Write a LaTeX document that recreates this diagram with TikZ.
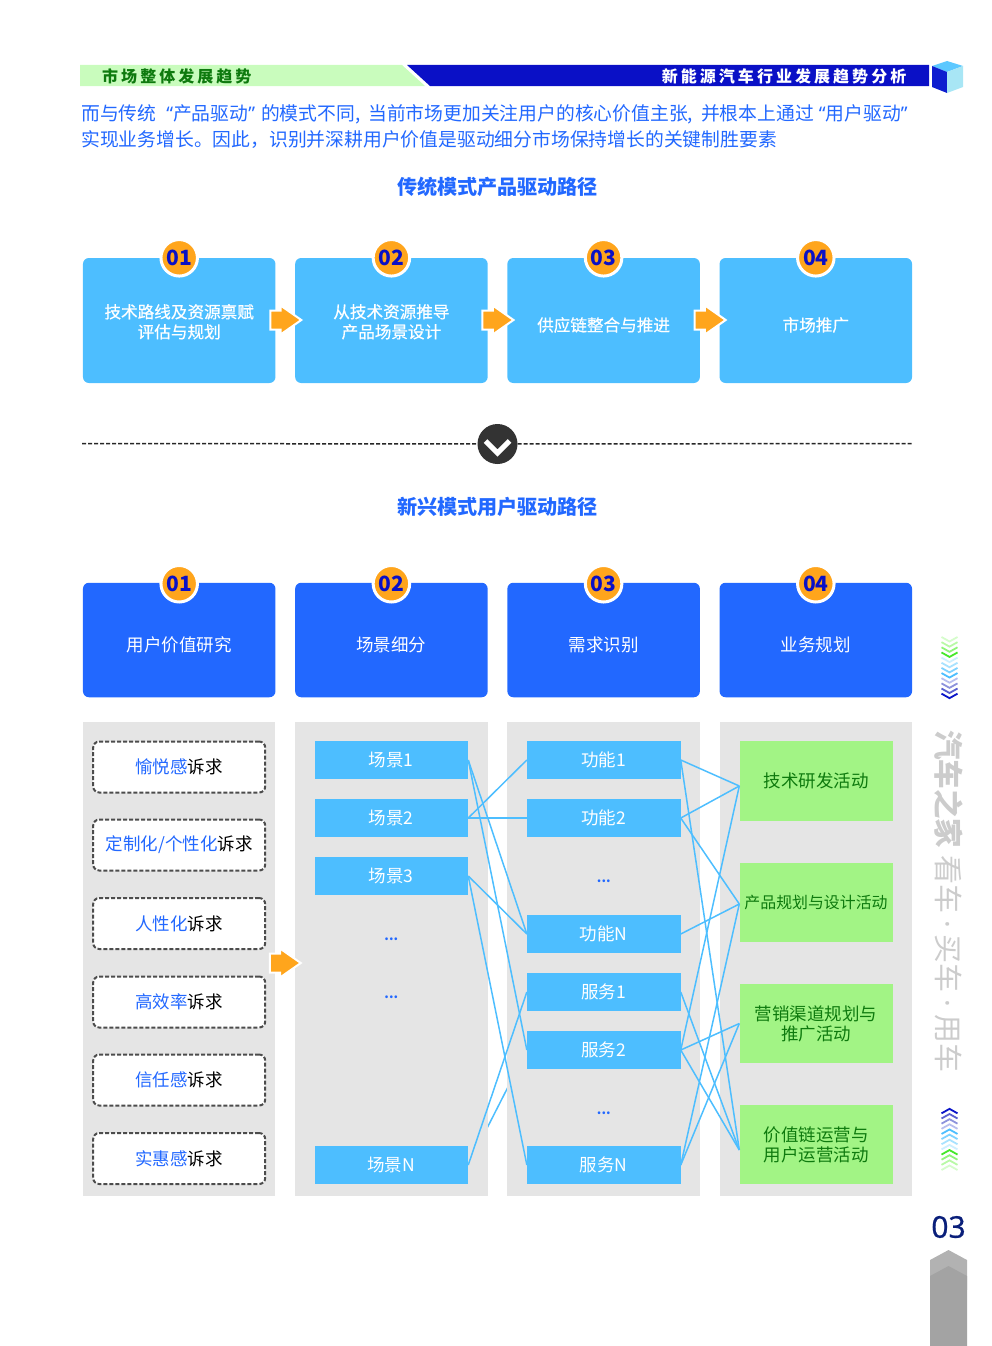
\documentclass[tikz,border=0pt]{standalone}
\usepackage{fontspec}
\setmainfont{Noto Sans CJK SC}
\setsansfont{Noto Sans}
\newfontfamily\headfont[LetterSpace=19]{Noto Sans CJK SC}
\newfontfamily\medfont[FakeBold=0.5]{Noto Sans CJK SC}
\newfontfamily\numfont[FakeBold=0.6]{Noto Sans}
\usetikzlibrary{shapes, arrows}
\definecolor{skyblue}{HTML}{4DBEFF}
\definecolor{royal}{HTML}{2268FF}
\definecolor{navy}{HTML}{0A10C6}
\definecolor{amber}{HTML}{FFA51C}
\definecolor{panelgray}{HTML}{E5E5E5}
\definecolor{leaf}{HTML}{A2F485}
\definecolor{darkleaf}{HTML}{0E7A0E}
\definecolor{paleleaf}{HTML}{C9FCBD}
\definecolor{cubetop}{HTML}{5CC8FF}
\definecolor{cubeside}{HTML}{A8E6F5}
\definecolor{pageblue}{HTML}{0A1F7A}
\newcommand{\fz}[2]{\fontsize{#1}{#2}\selectfont}
\newcommand{\qt}[1]{{\sffamily #1}}
\tikzstyle{topcell} = [rectangle, rounded corners=6pt, fill=skyblue, text=white, minimum width=192.5pt, minimum height=125pt, inner sep=0pt, align=center, font=\medfont\fz{16.6}{20}]
\tikzstyle{oneline} = [text height=21.6pt, text depth=0pt]
\tikzstyle{maincell} = [rectangle, rounded corners=6pt, fill=royal, text=white, minimum width=192.5pt, minimum height=114.5pt, inner sep=0pt, text height=23.3pt, text depth=0pt, font=\fz{17.5}{20}]
\tikzstyle{badge} = [circle, fill=amber, draw=white, line width=3pt, minimum size=36.5pt, inner sep=0pt, text=navy, font=\bfseries\fz{21}{21}]
\tikzstyle{nextarrow} = [single arrow, fill=amber, draw=white, line width=2pt, minimum width=27pt, minimum height=31pt, single arrow head extend=5pt, single arrow head indent=0pt, single arrow tip angle=70, inner sep=0pt, text height=17pt, text depth=0pt]
\tikzstyle{panel} = [rectangle, fill=panelgray, minimum width=192.5pt, minimum height=474pt, inner sep=0pt]
\tikzstyle{wish} = [rectangle, rounded corners=6pt, draw=black!70, fill=white, dash pattern=on 4pt off 2pt, line width=2pt, minimum width=172pt, minimum height=51pt, inner sep=0pt, font=\fz{17.5}{20}]
\tikzstyle{item} = [rectangle, fill=skyblue, text=white, minimum width=153.5pt, minimum height=38pt, inner sep=0pt, font=\fz{17.5}{20}]
\tikzstyle{activity} = [rectangle, fill=leaf, text=darkleaf, minimum width=153pt, minimum height=79.5pt, inner sep=0pt, align=center, font=\fz{17.5}{20}]
\tikzstyle{more} = [text=royal, inner sep=0pt, font=\bfseries\fz{13}{13}]
\tikzstyle{link} = [draw=skyblue, line width=1.5pt]
\tikzstyle{title} = [text=royal, font=\bfseries\fz{20.1}{20}]
\tikzstyle{divider} = [line width=1.5pt, dash pattern=on 4pt off 2pt, black!85]
\pgfdeclarelayer{background}
\pgfsetlayers{background,main}
\begin{document}
\begin{tikzpicture}[x=1pt, y=-1pt, node distance = 212.2pt]
    \useasboundingbox (0,0) rectangle (992,1346);

    % header bands
    \fill[paleleaf] (80,65) -- (402,65) -- (425,86) -- (80,86) -- cycle;
    \fill[navy] (407,65) -- (430,86) -- (929,86) -- (929,65) -- cycle;
    \node[anchor=west, inner sep=0pt, text=darkleaf, font=\headfont\bfseries\fz{16}{16}] (headl) at (102,76) {市场整体发展趋势};
    \node[anchor=east, inner sep=0pt, text=white, font=\headfont\bfseries\fz{16}{16}] (headr) at (906.5,76) {新能源汽车行业发展趋势分析};
    \fill[cubetop] (947,61) -- (963,66) -- (947,72) -- (932,66) -- cycle;
    \fill[navy!85!royal] (932,66) -- (947,72) -- (947,93) -- (932,87) -- cycle;
    \fill[cubeside] (963,66) -- (947,72) -- (947,93) -- (963,87) -- cycle;

    \node[anchor=west, inner sep=0pt, text=royal, font=\fz{18.8}{20}] (introa) at (81,114) {而与传统\hspace{10pt}\qt{“}产品驱动\qt{”}\hspace{6pt}的模式不同,\hspace{8pt}当前市场更加关注用户的核心价值主张,\hspace{8pt}并根本上通过\hspace{5pt}\qt{“}用户驱动\qt{”}};
    \node[anchor=west, inner sep=0pt, text=royal, font=\fz{18.8}{20}] (introb) at (81,140) {实现业务增长。因此，识别并深耕用户价值是驱动细分市场保持增长的关键制胜要素};

    % traditional path
    \node[title] (oldtitle) at (497.5,187) {传统模式产品驱动路径};
    \node[topcell] (t1) at (179.2,320.5) {\rule{0pt}{16.6pt}技术路线及资源禀赋\\评估与规划};
    \node[topcell, right of=t1] (t2) {\rule{0pt}{16.6pt}从技术资源推导\\产品场景设计};
    \node[topcell, oneline, right of=t2] (t3) {供应链整合与推进};
    \node[topcell, oneline, right of=t3] (t4) {市场推广};
    \foreach \n/\t in {1/01, 2/02, 3/03, 4/04} {
        \node[badge] (tb\n) at (t\n.north) {\t};
    }
    \node[nextarrow] (ta1) at (279,320) {};
    \node[nextarrow, right of=ta1] (ta2) {};
    \node[nextarrow, right of=ta2] (ta3) {};

    % divider
    \coordinate (dashl) at (82,443.5);
    \coordinate (dashr) at (912,443.5);
    \node[circle, fill=black!80, minimum size=40pt, inner sep=0pt] (turn) at (497.5,444) {};
    \draw[divider] (dashl) -- (turn);
    \draw[divider] (turn) -- (dashr);
    \draw[white, line width=5pt] ([shift={(-12pt,3pt)}]turn.center) -- ([shift={(0pt,-9pt)}]turn.center) -- ([shift={(12pt,3pt)}]turn.center);

    % user driven path
    \node[title] (newtitle) at (497.5,507) {新兴模式用户驱动路径};
    \node[maincell] (m1) at (179.2,640) {用户价值研究};
    \node[maincell, right of=m1] (m2) {场景细分};
    \node[maincell, right of=m2] (m3) {需求识别};
    \node[maincell, right of=m3] (m4) {业务规划};
    \foreach \n/\t in {1/01, 2/02, 3/03, 4/04} {
        \node[badge] (mb\n) at ([yshift=-1.2pt]m\n.north) {\t};
    }

    \node[panel] (p1) at (179.2,959) {};
    \node[panel, right of=p1] (p2) {};
    \node[panel, right of=p2] (p3) {};
    \node[panel, right of=p3] (p4) {};

    \node[wish] (w1) at (179.2,767) {{\color{royal}愉悦感}诉求};
    \node[wish] (w2) at (179.2,845) {{\color{royal}定制化/个性化}诉求};
    \node[wish] (w3) at (179.2,923.5) {{\color{royal}人性化}诉求};
    \node[wish] (w4) at (179.2,1002) {{\color{royal}高效率}诉求};
    \node[wish] (w5) at (179.2,1080) {{\color{royal}信任感}诉求};
    \node[wish] (w6) at (179.2,1158.5) {{\color{royal}实惠感}诉求};
    \node[nextarrow] (ta4) at (278.5,963) {};

    \node[item] (s1) at (391.3,760) {场景1};
    \node[item] (s2) at (391.3,818) {场景2};
    \node[item] (s3) at (391.3,876) {场景3};
    \node[more] (sd1) at (391.3,939.5) {...};
    \node[more] (sd2) at (391.3,997.5) {...};
    \node[item] (sN) at (391.3,1165) {场景N};

    \node[item] (f1) at (603.8,760) {功能1};
    \node[item] (f2) at (603.8,818) {功能2};
    \node[more] (fd) at (603.8,881) {...};
    \node[item] (fN) at (603.8,934) {功能N};
    \node[item] (v1) at (603.8,992) {服务1};
    \node[item] (v2) at (603.8,1050) {服务2};
    \node[more] (vd) at (603.8,1113) {...};
    \node[item] (vN) at (603.8,1165) {服务N};

    \node[activity] (tech) at (816,781) {技术研发活动};
    \node[activity, font=\fz{15.9}{20}] (plan) at (816,902.5) {产品规划与设计活动};
    \node[activity] (chan) at (816,1023.5) {营销渠道规划与\\推广活动};
    \node[activity] (valu) at (816,1144.5) {价值链运营与\\用户运营活动};

    \coordinate (gtech) at ([yshift=-5pt]tech.west);
    \coordinate (gplan) at ([yshift=-1.5pt]plan.west);
    \coordinate (gchan) at (chan.west);
    \coordinate (gvalu) at ([yshift=-5.5pt]valu.west);

    \foreach \a/\b in {s1/fN, s1/v2, s2/f1, s2/f2, s3/fN, s3/vN, sN/v1} {
        \path[link] (\a.east) -- (\b.west);
    }
    \begin{pgfonlayer}{background}
        \path[link] (sN.east) -- (v2.west);
    \end{pgfonlayer}
    \foreach \a/\b in {f1/gtech, f2/gtech, v2/gtech, f2/gplan, fN/gplan, vN/gplan, v2/gchan, vN/gchan, f1/gvalu, v1/gvalu, v2/gvalu} {
        \path[link] (\a.east) -- (\b);
    }

    % side marks
    \foreach \i/\c in {0/D5FCCB, 1/B8F9A6, 2/8FF47A, 3/44E72A, 4/CDEFFF, 5/A8E2FF, 6/7FD2FF, 7/4DBEFF, 8/B8BEEE, 9/8D93DC, 10/5A60CF, 11/0A14C8} {
        \definecolor{sidetone}{HTML}{\c}
        \draw[color=sidetone, line width=1.8pt] (941.5,637+5.15*\i) -- (949.5,641.5+5.15*\i) -- (957.5,637+5.15*\i);
        \draw[color=sidetone, line width=1.8pt] (941.5,1170-5.15*\i) -- (949.5,1165.5-5.15*\i) -- (957.5,1170-5.15*\i);
    }
    \node[rotate=-90, anchor=west, inner sep=0pt, text=black!20, font=\bfseries\fz{29.5}{30}] (brand) at (949,730) {汽车之家};
    \node[rotate=-90, anchor=west, inner sep=0pt, text=black!20, font=\fz{29}{30}] (slogan) at (949,855) {看车\hspace{7pt}\qt{·}\hspace{7pt}买车\hspace{7pt}\qt{·}\hspace{7pt}用车};

    \node[text=pageblue, inner sep=0pt, font=\numfont\fz{30}{30}] (pageno) at (948.5,1227) {03};
    \fill[black!30] (930,1260) -- (948.5,1250) -- (967,1260) -- (967,1290) -- (930,1290) -- cycle;
    \fill[black!36] (930,1276) -- (948.5,1266) -- (967,1276) -- (967,1346) -- (930,1346) -- cycle;
\end{tikzpicture}
\end{document}
